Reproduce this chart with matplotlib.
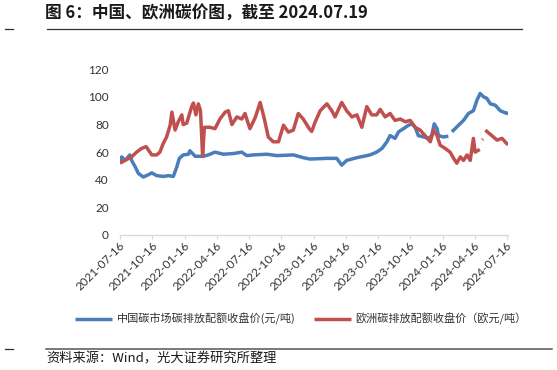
import matplotlib
matplotlib.use("Agg")
import matplotlib.pyplot as plt
import matplotlib.transforms as mtransforms
from matplotlib.lines import Line2D
import numpy as np
import pandas as pd

plt.rcParams['font.family'] = ['Noto Sans CJK SC', 'DejaVu Sans']

# ---------------- data ----------------
cn_dates = ["2021-07-16", "2021-07-21", "2021-07-30", "2021-08-13", "2021-08-18", "2021-08-28",
            "2021-09-06", "2021-09-20", "2021-10-04", "2021-10-14", "2021-10-28", "2021-11-16",
            "2021-11-30", "2021-12-14", "2021-12-24", "2021-12-31", "2022-01-11", "2022-01-26",
            "2022-01-30", "2022-02-14", "2022-03-09", "2022-03-23", "2022-04-11", "2022-05-05",
            "2022-06-02", "2022-06-26", "2022-07-10", "2022-07-29", "2022-09-05", "2022-10-03",
            "2022-11-19", "2022-12-17", "2023-01-05", "2023-02-22", "2023-03-22", "2023-04-05",
            "2023-04-19", "2023-05-18", "2023-06-06", "2023-06-24", "2023-07-13", "2023-07-28",
            "2023-08-11", "2023-08-20", "2023-09-03", "2023-09-13", "2023-09-27", "2023-10-11",
            "2023-10-21", "2023-10-30", "2023-11-08", "2023-11-23", "2023-12-07", "2023-12-16",
            "2023-12-23", "2023-12-31", "2024-01-04", "2024-01-18", "2024-02-01", "2024-02-06",
            "2024-02-11", "2024-03-01", "2024-03-15", "2024-03-29", "2024-04-12", "2024-04-22",
            "2024-05-01", "2024-05-11", "2024-05-20", "2024-05-30", "2024-06-13", "2024-06-27",
            "2024-07-16", "2024-07-19"]
cn_vals = [52, 56.6, 54, 58, 54, 49.4,
           44.6, 42, 43.6, 45, 43, 42.4,
           43, 42.4, 49.4, 55.5, 58, 58.5,
           61, 57, 57, 58, 60, 58.5,
           59, 60, 57.5, 58, 58.5, 57.5,
           58, 56, 55, 55.5, 55.5, 50.6,
           54, 56, 57, 58, 60, 62.7,
           67.5, 72, 70, 74.7, 77, 79.5,
           80.5, 78, 72, 71, 70, 72,
           80.5, 77, 72, 71, 71.5, None,
           74.7, 79.5, 83, 88, 90, 97.6,
           102.5, 100, 99, 95, 94, 90,
           88, 89]

eu_dates = ["2021-07-16", "2021-07-30", "2021-08-18", "2021-09-01", "2021-09-15", "2021-09-28",
            "2021-10-14", "2021-10-28", "2021-11-06", "2021-11-15", "2021-11-25", "2021-12-05",
            "2021-12-10", "2021-12-19", "2021-12-28", "2022-01-07", "2022-01-11", "2022-01-21",
            "2022-02-04", "2022-02-09", "2022-02-16", "2022-02-23", "2022-03-01", "2022-03-07",
            "2022-03-12", "2022-03-28", "2022-04-11", "2022-04-25", "2022-05-10", "2022-05-19",
            "2022-05-29", "2022-06-12", "2022-06-26", "2022-07-05", "2022-07-19", "2022-08-03",
            "2022-08-17", "2022-08-28", "2022-09-09", "2022-09-23", "2022-10-08", "2022-10-22",
            "2022-11-05", "2022-11-19", "2022-12-03", "2022-12-17", "2023-01-03", "2023-01-10",
            "2023-01-20", "2023-02-03", "2023-02-22", "2023-03-08", "2023-03-17", "2023-04-05",
            "2023-04-19", "2023-05-04", "2023-05-18", "2023-06-01", "2023-06-15", "2023-06-29",
            "2023-07-13", "2023-07-23", "2023-08-06", "2023-08-20", "2023-09-03", "2023-09-18",
            "2023-10-02", "2023-10-16", "2023-10-30", "2023-11-13", "2023-11-27", "2023-12-12",
            "2023-12-21", "2023-12-31", "2024-01-09", "2024-01-23", "2024-02-06", "2024-02-16",
            "2024-02-25", "2024-03-06", "2024-03-15", "2024-03-25", "2024-04-03", "2024-04-12",
            "2024-04-17", "2024-04-30", "2024-05-03", "2024-05-07", "2024-05-09", "2024-05-12",
            "2024-05-16", "2024-05-20", "2024-06-03", "2024-06-18", "2024-07-02", "2024-07-16",
            "2024-07-19"]
eu_vals = [52, 54, 56.6, 60, 62.7, 64,
           58, 58, 60, 66, 71, 79.5,
           89, 76, 82, 87, 80, 81,
           93, 95.6, 87, 95, 90, 57,
           78, 78, 77, 84, 89, 90,
           80, 85.5, 84, 88, 77, 85,
           96, 85, 71, 67.5, 67.5, 79.5,
           74.5, 76, 88, 84, 77, 75,
           82, 90, 95, 90, 85.5, 96,
           90, 85.5, 87, 78, 93, 87,
           87, 91, 85.5, 88, 83, 84,
           82, 83, 78, 76, 72, 67.5,
           76, 72, 65, 62.7, 60, 55.5,
           52, 56.6, 54, 58, 54, 70,
           60, 62, None, 69, 69.5, None,
           76, 75, 72, 68.7, 70, 66,
           66]

tick_dates = ["2021-07-16", "2021-10-16", "2022-01-16", "2022-04-16", "2022-07-16",
              "2022-10-16", "2023-01-16", "2023-04-16", "2023-07-16", "2023-10-16",
              "2024-01-16", "2024-04-16", "2024-07-16"]
y_ticks = [0, 20, 40, 60, 80, 100, 120]

title = "图 6：中国、欧洲碳价图，截至 2024.07.19"
cn_label = "中国碳市场碳排放配额收盘价(元/吨)"
eu_label = "欧洲碳排放配额收盘价（欧元/吨）"
source = "资料来源：Wind，光大证券研究所整理"

BLUE = "#4A7EBB"
RED = "#C0504D"

# ---------------- figure ----------------
W, H = 557, 370
fig = plt.figure(figsize=(W / 100, H / 100), dpi=100)
ax = fig.add_axes([120 / W, 1 - 235 / H, 388 / W, (235 - 69.3) / H])

l1, = ax.plot(pd.to_datetime(cn_dates), np.array(cn_vals, dtype=float),
              color=BLUE, lw=2.5, solid_capstyle='butt')
l2, = ax.plot(pd.to_datetime(eu_dates), np.array(eu_vals, dtype=float),
              color=RED, lw=2.5, solid_capstyle='butt')

ax.set_xlim(pd.Timestamp("2021-07-16"), pd.Timestamp("2024-07-19"))
ax.set_ylim(0, 120)
ax.set_yticks(y_ticks)
ax.set_yticklabels([str(v) for v in y_ticks])
ax.set_xticks(pd.to_datetime(tick_dates))
ax.set_xticklabels(tick_dates, rotation=45, ha='right', va='center',
                   rotation_mode='anchor')

for s in ['top', 'right', 'left']:
    ax.spines[s].set_visible(False)
ax.spines['bottom'].set_color('#D9D9D9')
ax.spines['bottom'].set_linewidth(1.0)

ax.tick_params(axis='y', length=0, pad=8, labelsize=8.5, labelcolor='#333333')
ax.tick_params(axis='x', length=3, width=0.8, color='#D9D9D9', pad=3.5,
               labelsize=8.5, labelcolor='#333333')
offset = mtransforms.ScaledTranslation(3 / 100, 0, fig.dpi_scale_trans)
for lab in ax.get_xticklabels():
    lab.set_fontfamily('Lato')
    lab.set_transform(lab.get_transform() + offset)
for lab in ax.get_yticklabels():
    lab.set_fontfamily('Lato')

fig.legend([l1, l2], [cn_label, eu_label], loc='center',
           bbox_to_anchor=(301 / W, 1 - 319 / H), ncol=2, frameon=False,
           fontsize=8, handlelength=3.3, columnspacing=1.7, handletextpad=0.4,
           labelcolor='#333333')

# title and rules
fig.text(45 / W, 1 - 14 / H, title, fontsize=12, fontweight='bold',
         ha='left', va='center', color='#1A1A1A')
fig.add_artist(Line2D([47 / W, 522 / W], [1 - 29 / H] * 2, transform=fig.transFigure,
                      color='#333333', lw=0.9))
fig.add_artist(Line2D([5 / W, 13 / W], [1 - 29 / H] * 2, transform=fig.transFigure,
                      color='#333333', lw=0.9))
fig.add_artist(Line2D([46 / W, 552 / W], [1 - 349 / H] * 2, transform=fig.transFigure,
                      color='#555555', lw=1.1))
fig.add_artist(Line2D([5 / W, 13 / W], [1 - 349 / H] * 2, transform=fig.transFigure,
                      color='#333333', lw=0.9))
fig.text(46 / W, 1 - 359 / H, source, fontsize=9.5, ha='left', va='center',
         color='#1A1A1A')

fig.savefig("out.png", dpi=100)
